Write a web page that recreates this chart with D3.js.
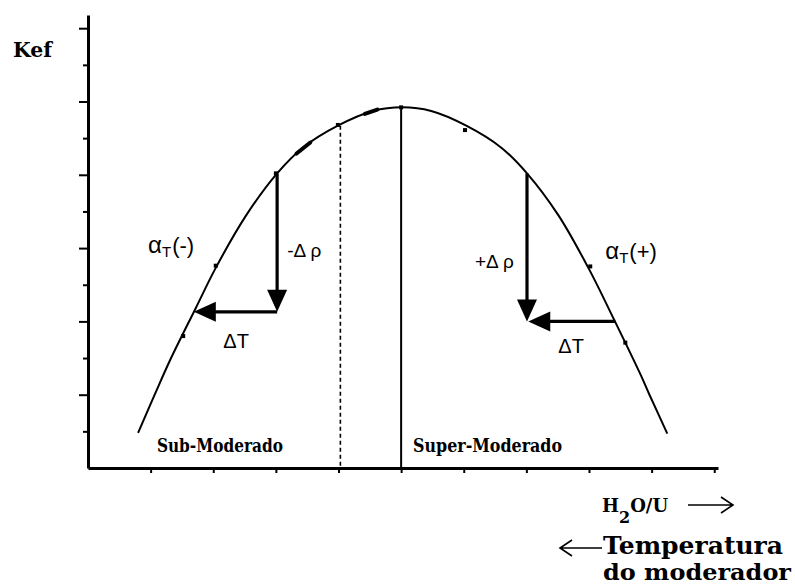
<!DOCTYPE html>
<html>
<head>
<meta charset="utf-8">
<script src="https://cdn.jsdelivr.net/npm/d3@7"></script>
<style>
  body { margin: 0; background: #fff; }
  svg { display: block; }
</style>
</head>
<body>
<svg id="chart" width="795" height="587"></svg>
<script>
// Kef as a function of the moderator-to-fuel ratio (H2O/U)
const curveX = [0.80, 1.07, 1.31, 1.72, 2.04, 2.52, 3.02, 3.43, 3.99, 4.55, 5.02, 5.48, 6.04, 6.60, 7.01, 7.51, 7.99, 8.42, 8.82, 8.96, 9.25];
const curveY = [0.48, 1.01, 1.47, 2.18, 2.73, 3.44, 4.02, 4.37, 4.67, 4.87, 4.92, 4.87, 4.67, 4.37, 4.02, 3.45, 2.73, 1.99, 1.28, 1.01, 0.47];

// small square markers sitting on the curve
const dotX = [1.52, 2.04, 3.00, 3.99, 5.00, 6.02, 8.02, 8.58];
const dotY = [1.80, 2.76, 4.02, 4.68, 4.92, 4.61, 2.75, 1.71];

// short heavy strokes along the curve near the top
const strokeX1 = [3.33, 4.42];
const strokeY1 = [4.29, 4.83];
const strokeX2 = [3.55, 4.62];
const strokeY2 = [4.44, 4.89];

// axis ticks
const xTickValues = [1, 2, 3, 4, 5, 6, 7, 8, 9, 10];
const yMajorTicks = [1, 2, 3, 4, 5, 6];
const yMinorTicks = [0.5, 1.5, 2.5, 3.5, 4.5, 5.5];

// reference verticals: dashed (sub-moderated limit) and solid (optimum)
const dashedLineX = 4.03, dashedLineTop = 4.67;
const optimumX = 5.00, optimumTop = 4.92;

// reactivity / temperature arrows: [x1, y1, x2, y2]
const arrowX1 = [3.02, 3.02, 7.01, 8.42];
const arrowY1 = [4.02, 2.13, 4.02, 2.00];
const arrowX2 = [3.02, 1.69, 7.01, 7.03];
const arrowY2 = [2.13, 2.13, 2.00, 2.00];

// in-plot annotations
const noteText = ["-\u0394 \u03c1", "\u0394T", "+\u0394 \u03c1", "\u0394T"];
const noteX = [3.18, 2.16, 6.18, 7.51];
const noteY = [2.88, 1.64, 2.73, 1.57];
const noteSize = [19, 20, 19, 20];

const alphaSign = ["(-)", "(+)"];
const alphaX = [0.96, 8.26];
const alphaY = [2.93, 2.85];

const regionText = ["Sub-Moderado", "Super-Moderado"];
const regionX = [1.10, 5.19];
const regionY = [0.22, 0.22];
const regionWidth = [126, 149];

const svg = d3.select("#chart");

const x = d3.scaleLinear().domain([0, 10.06]).range([88, 718]);
const y = d3.scaleLinear().domain([0, 6.18]).range([468, 15]);

const serif = "'DejaVu Serif', serif";
const sans = "'Liberation Sans', Arial, sans-serif";

// ---- axes ----
const gy = svg.append("g").attr("transform", `translate(${x(0)},0)`);
gy.call(d3.axisLeft(y).tickValues(yMajorTicks).tickSize(9).tickSizeOuter(0).tickFormat(""));
gy.append("g").call(d3.axisLeft(y).tickValues(yMinorTicks).tickSize(5).tickSizeOuter(0).tickFormat(""))
  .select(".domain").remove();
gy.selectAll(".domain").attr("stroke", "#000").attr("stroke-width", 3);
gy.selectAll(".tick line").attr("stroke", "#000").attr("stroke-width", 2);

const gx = svg.append("g").attr("transform", `translate(0,${y(0)})`);
gx.call(d3.axisBottom(x).tickValues(xTickValues).tickSize(5).tickSizeOuter(0).tickFormat(""));
gx.selectAll(".domain").attr("stroke", "#000").attr("stroke-width", 3);
gx.selectAll(".tick line").attr("stroke", "#000").attr("stroke-width", 2);

// ---- reference verticals ----
svg.append("line")
  .attr("x1", x(dashedLineX)).attr("x2", x(dashedLineX))
  .attr("y1", y(dashedLineTop)).attr("y2", y(0))
  .attr("stroke", "#000").attr("stroke-width", 1.6).attr("stroke-dasharray", "4,3");
svg.append("line")
  .attr("x1", x(optimumX)).attr("x2", x(optimumX))
  .attr("y1", y(optimumTop)).attr("y2", y(0))
  .attr("stroke", "#000").attr("stroke-width", 2);

// ---- Kef curve ----
const pts = curveX.map((v, i) => [v, curveY[i]]);
svg.append("path")
  .datum(pts)
  .attr("fill", "none").attr("stroke", "#000").attr("stroke-width", 2)
  .attr("d", d3.line().x(d => x(d[0])).y(d => y(d[1])).curve(d3.curveCatmullRom.alpha(0.5)));

svg.selectAll("rect.dot")
  .data(dotX.map((v, i) => [v, dotY[i]]))
  .join("rect").attr("class", "dot")
  .attr("x", d => x(d[0]) - 2).attr("y", d => y(d[1]) - 2)
  .attr("width", 4).attr("height", 4).attr("fill", "#000");

svg.selectAll("line.stroke")
  .data(strokeX1.map((v, i) => [v, strokeY1[i], strokeX2[i], strokeY2[i]]))
  .join("line").attr("class", "stroke")
  .attr("x1", d => x(d[0])).attr("y1", d => y(d[1]))
  .attr("x2", d => x(d[2])).attr("y2", d => y(d[3]))
  .attr("stroke", "#000").attr("stroke-width", 4).attr("stroke-linecap", "round");

// ---- arrows with filled heads ----
const headLen = 22, headHalf = 10;
arrowX1.forEach((v, i) => {
  const sx = x(v), sy = y(arrowY1[i]), ex = x(arrowX2[i]), ey = y(arrowY2[i]);
  const len = Math.hypot(ex - sx, ey - sy);
  const ux = (ex - sx) / len, uy = (ey - sy) / len;
  const bx = ex - ux * headLen, by = ey - uy * headLen;
  svg.append("line")
    .attr("x1", sx).attr("y1", sy).attr("x2", bx + ux * 2).attr("y2", by + uy * 2)
    .attr("stroke", "#000").attr("stroke-width", 3.2);
  svg.append("path")
    .attr("d", `M${ex},${ey}L${bx - uy * headHalf},${by + ux * headHalf}L${bx + uy * headHalf},${by - ux * headHalf}Z`)
    .attr("fill", "#000");
});

// ---- annotations ----
svg.selectAll("text.note")
  .data(noteText)
  .join("text").attr("class", "note")
  .attr("x", (d, i) => x(noteX[i])).attr("y", (d, i) => y(noteY[i]))
  .attr("font-family", sans).attr("font-size", (d, i) => noteSize[i])
  .text(d => d);

alphaSign.forEach((s, i) => {
  const t = svg.append("text")
    .attr("x", x(alphaX[i])).attr("y", y(alphaY[i]))
    .attr("font-family", sans).attr("font-size", 22);
  t.append("tspan").attr("font-size", 24).text("\u03b1");
  t.append("tspan").attr("dy", 4).attr("font-size", 15).text("T");
  t.append("tspan").attr("dy", -4).attr("dx", 1).text(s);
});

svg.selectAll("text.region")
  .data(regionText)
  .join("text").attr("class", "region")
  .attr("x", (d, i) => x(regionX[i])).attr("y", (d, i) => y(regionY[i]))
  .attr("font-family", serif).attr("font-weight", "bold").attr("font-size", 18)
  .attr("textLength", (d, i) => regionWidth[i]).attr("lengthAdjust", "spacingAndGlyphs")
  .text(d => d);

// ---- axis titles ----
svg.append("text")
  .attr("x", 13).attr("y", 57)
  .attr("font-family", serif).attr("font-weight", "bold").attr("font-size", 20)
  .attr("textLength", 39).attr("lengthAdjust", "spacingAndGlyphs")
  .text("Kef");

const h2o = svg.append("text")
  .attr("x", 602).attr("y", 512)
  .attr("font-family", serif).attr("font-weight", "bold").attr("font-size", 18);
h2o.append("tspan").text("H");
h2o.append("tspan").attr("dy", 11).attr("font-size", 16).text("2");
h2o.append("tspan").attr("dy", -11).text("O/U");

// direction arrows beside the axis titles
function thinArrow(x1, x2, yy) {
  const dir = Math.sign(x2 - x1);
  svg.append("path")
    .attr("d", `M${x1},${yy}H${x2}M${x2 - dir * 12},${yy - 8}L${x2},${yy}L${x2 - dir * 12},${yy + 8}`)
    .attr("fill", "none").attr("stroke", "#000").attr("stroke-width", 1.6);
}
thinArrow(688, 733, 505);
thinArrow(602, 560, 548);

svg.append("text")
  .attr("x", 603).attr("y", 554)
  .attr("font-family", serif).attr("font-weight", "bold").attr("font-size", 24)
  .attr("textLength", 180).attr("lengthAdjust", "spacingAndGlyphs")
  .text("Temperatura");
svg.append("text")
  .attr("x", 603).attr("y", 580)
  .attr("font-family", serif).attr("font-weight", "bold").attr("font-size", 23)
  .attr("textLength", 188).attr("lengthAdjust", "spacingAndGlyphs")
  .text("do moderador");
</script>
</body>
</html>
